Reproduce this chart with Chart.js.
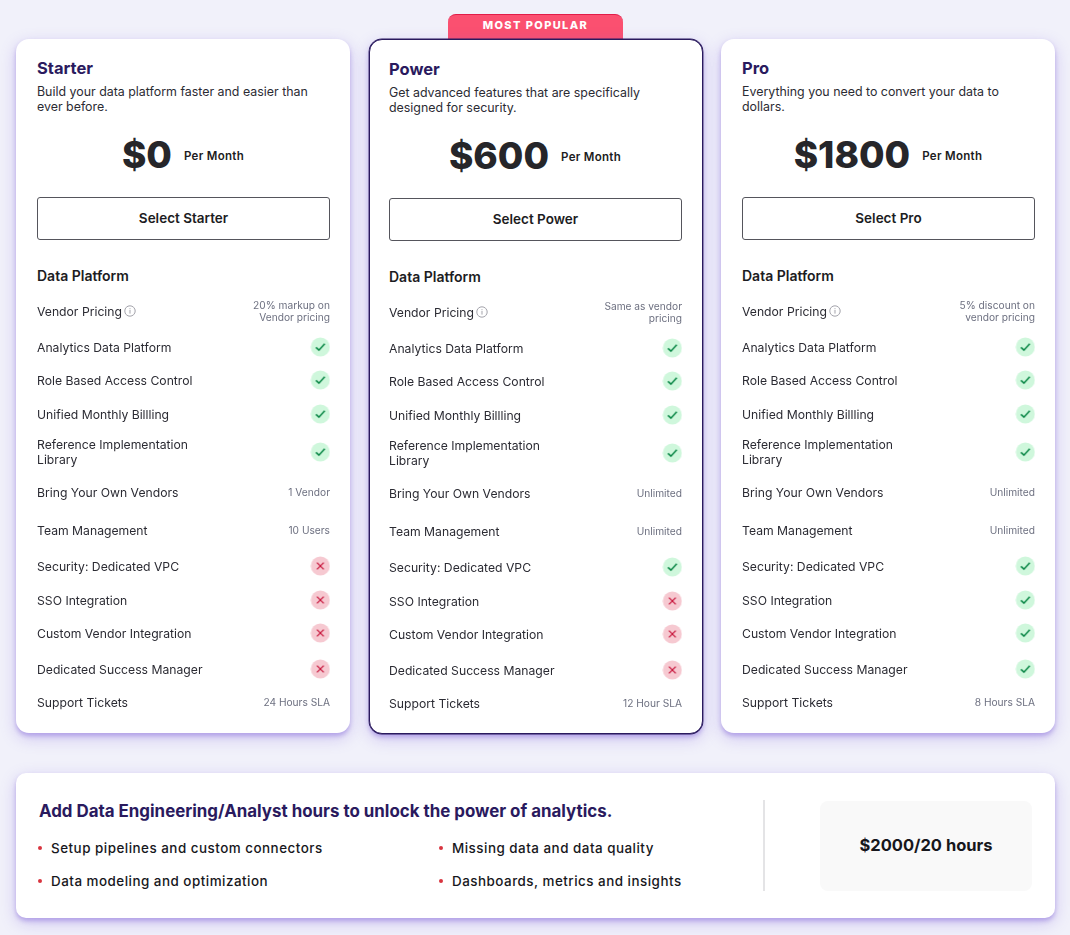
<!DOCTYPE html>
<html>
<head>
<meta charset="utf-8">
<title>Pricing</title>
<script src="https://cdn.jsdelivr.net/npm/chart.js@4"></script>
<style>
html, body { margin: 0; padding: 0; }
body { width: 1070px; height: 935px; background: #f1f1fa; position: relative; overflow: hidden; font-family: Inter, sans-serif; color: #1c1c22; }
.abs { position: absolute; white-space: nowrap; }
.card { position: absolute; width: 334px; top: 39px; height: 694px; background: #fff; border-radius: 13px; box-shadow: 0 3px 4px rgba(120, 90, 210, .38), 0 5px 16px rgba(130, 100, 225, .32); box-sizing: border-box; }
.card.popular { height: 695px; border: 1px solid #2a1a5e; box-shadow: 0 0 0 .4px #2a1a5e, 0 3px 4px rgba(120, 90, 210, .38), 0 5px 16px rgba(130, 100, 225, .32); }
.name { font-size: 16.5px; line-height: 22px; font-weight: 700; color: #2a1a5e; }
.desc { font-size: 12.4px; line-height: 14.5px; color: #2b2b33; white-space: pre; }
.priceRow { width: 334px; height: 50px; display: flex; align-items: center; justify-content: center; }
.price { font-size: 37px; font-weight: 800; color: #26262a; line-height: 50px; }
.per { font-size: 11.5px; font-weight: 600; margin-left: 12px; letter-spacing: .3px; padding-top: 1px; }
.btn { width: 293px; height: 43px; box-sizing: border-box; border: 1px solid #55555c; border-radius: 3px; text-align: center; line-height: 41px; font-size: 13.5px; font-weight: 600; }
.section { font-size: 14px; line-height: 18px; font-weight: 600; }
.tab { left: 448px; top: 14px; width: 175px; height: 25px; background: #fb5070; border-top: 1px solid #e11d48; border-radius: 8px 8px 0 0; box-sizing: border-box; color: #fff; text-align: center; font-size: 11px; line-height: 21px; font-weight: 800; letter-spacing: 1.4px; }
canvas { position: absolute; }
#extra { position: absolute; left: 16px; top: 773px; width: 1039px; height: 145px; background: #fff; border-radius: 10px; box-shadow: 0 3px 4px rgba(120, 90, 210, .38), 0 5px 16px rgba(130, 100, 225, .32); }
.extraTitle { left: 23px; top: 27px; font-size: 16.9px; line-height: 22px; font-weight: 700; color: #2a1a5e; }
.item { font-size: 13.4px; line-height: 18px; font-weight: 500; letter-spacing: .5px; color: #17171c; }
.dot { width: 4px; height: 4px; border-radius: 50%; background: #d8343f; }
.rule { left: 747px; top: 27px; width: 2px; height: 91px; background: #e4e4e6; }
.hours { left: 804px; top: 28px; width: 212px; height: 90px; background: #f9f9f9; border-radius: 8px; text-align: center; line-height: 88px; font-size: 16.5px; font-weight: 700; color: #17171c; }
</style>
</head>
<body>
<div class="abs tab" id="tab"></div>
<div id="cards"></div>
<div id="extra">
	<div class="abs rule"></div>
	<div class="abs hours" id="hours"></div>
</div>
<script>
const plans = ['Starter', 'Power', 'Pro'];
const planLeft = [16, 369, 721];
const descriptions = [
	'Build your data platform faster and easier than\never before.',
	'Get advanced features that are specifically\ndesigned for security.',
	'Everything you need to convert your data to\ndollars.',
];
const prices = ['$0', '$600', '$1800'];
const features = [
	'Vendor Pricing',
	'Analytics Data Platform',
	'Role Based Access Control',
	'Unified Monthly Billling',
	['Reference Implementation', 'Library'],
	'Bring Your Own Vendors',
	'Team Management',
	'Security: Dedicated VPC',
	'SSO Integration',
	'Custom Vendor Integration',
	'Dedicated Success Manager',
	'Support Tickets',
];
// 1 = included, 0 = not included, null = row shows a text instead
const starterMarks = [null, 1, 1, 1, 1, null, null, 0, 0, 0, 0, null];
const powerMarks = [null, 1, 1, 1, 1, null, null, 1, 0, 0, 0, null];
const proMarks = [null, 1, 1, 1, 1, null, null, 1, 1, 1, 1, null];
const starterTexts = [['20% markup on', 'Vendor pricing'], '', '', '', '', '1 Vendor', '10 Users', '', '', '', '', '24 Hours SLA'];
const powerTexts = [['Same as vendor', 'pricing'], '', '', '', '', 'Unlimited', 'Unlimited', '', '', '', '', '12 Hour SLA'];
const proTexts = [['5% discount on', 'vendor pricing'], '', '', '', '', 'Unlimited', 'Unlimited', '', '', '', '', '8 Hours SLA'];
const extraItems = ['Setup pipelines and custom connectors', 'Data modeling and optimization', 'Missing data and data quality', 'Dashboards, metrics and insights'];

// row spacing of the list, the rows are not evenly spaced in the design
const rowSteps = [21, 36, 33, 34, 38, 40, 38, 36, 34, 33, 36, 33];
const rowY = [];
rowSteps.reduce((sum, step) => {
	rowY.push(sum + step);
	return sum + step;
}, 0);

function makeIcon(ok) {
	const c = document.createElement('canvas');
	c.width = 20;
	c.height = 20;
	const g = c.getContext('2d');
	g.fillStyle = ok ? '#cff7dc' : '#f6c9d1';
	g.beginPath();
	g.arc(10, 10, 9.5, 0, Math.PI * 2);
	g.fill();
	g.strokeStyle = ok ? '#0f8a4a' : '#c8193f';
	g.lineWidth = ok ? 1.6 : 1.3;
	g.beginPath();
	if (ok) {
		g.moveTo(5.6, 10.4);
		g.lineTo(8.6, 13.2);
		g.lineTo(14.4, 6.8);
	} else {
		g.moveTo(6.6, 6.6);
		g.lineTo(13.4, 13.4);
		g.moveTo(13.4, 6.6);
		g.lineTo(6.6, 13.4);
	}
	g.stroke();
	return c;
}

function makeInfo() {
	const c = document.createElement('canvas');
	c.width = 12;
	c.height = 12;
	const g = c.getContext('2d');
	g.strokeStyle = '#a2a2aa';
	g.lineWidth = 1;
	g.beginPath();
	g.arc(6, 6, 5.2, 0, Math.PI * 2);
	g.stroke();
	g.fillStyle = '#a2a2aa';
	g.fillRect(5.5, 5, 1, 3.6);
	g.fillRect(5.5, 3.2, 1, 1);
	return c;
}

const okIcon = makeIcon(true);
const noIcon = makeIcon(false);
const infoIcon = makeInfo();

// labels sit a pixel under the icon centres
function fixedTicks(axis) {
	axis.ticks = rowY.map((v) => ({ value: v + 1 }));
}

// mirrored axes sit on the plot area, no room or margins wanted
function flatAxis(axis) {
	axis.width = 0;
	axis.paddingTop = 0;
	axis.paddingBottom = 0;
}

function drawCard(i, marks, texts) {
	const shift = i === 1 ? 1 : 0;
	const card = document.createElement('div');
	card.className = i === 1 ? 'card popular' : 'card';
	card.style.left = planLeft[i] + 'px';
	const top = (v) => v + shift - (i === 1 ? 1 : 0);
	const left = (v) => v - (i === 1 ? 2 : 0);
	card.innerHTML =
		`<div class="abs name" style="left:${left(21)}px;top:${top(18)}px">${plans[i]}</div>` +
		`<div class="abs desc" style="left:${left(21)}px;top:${top(46)}px">${descriptions[i]}</div>` +
		`<div class="abs priceRow" style="left:${left(0)}px;top:${top(91)}px"><span class="price">${prices[i]}</span><span class="per">Per Month</span></div>` +
		`<div class="abs btn" style="left:${left(21)}px;top:${top(158)}px">Select ${plans[i]}</div>` +
		`<div class="abs section" style="left:${left(21)}px;top:${top(228)}px">Data Platform</div>`;
	document.getElementById('cards').appendChild(card);

	const canvas = document.createElement('canvas');
	canvas.width = 293;
	canvas.height = 435;
	canvas.style.left = left(21) + 'px';
	canvas.style.top = top(251) + 'px';
	card.appendChild(canvas);

	const markPoints = [];
	const markStyles = [];
	marks.forEach((m, r) => {
		if (m === null) return;
		markPoints.push({ x: 0.967, y: rowY[r] });
		markStyles.push(m ? okIcon : noIcon);
	});

	new Chart(canvas, {
		type: 'scatter',
		data: {
			datasets: [
				{ data: markPoints, pointStyle: markStyles, pointRadius: 10, clip: false, yAxisID: 'y' },
				{ data: [{ x: 0.317, y: rowY[0] }], pointStyle: infoIcon, pointRadius: 6, clip: false, yAxisID: 'y' },
			],
		},
		options: {
			responsive: false,
			animation: false,
			events: [],
			layout: { padding: 0, autoPadding: false },
			plugins: { legend: { display: false }, tooltip: { enabled: false } },
			scales: {
				x: { type: 'linear', min: 0, max: 1, display: false },
				y: {
					type: 'linear',
					position: 'left',
					reverse: true,
					min: 0,
					max: 435,
					border: { display: false },
					grid: { display: false, drawTicks: false, tickLength: 0 },
					afterBuildTicks: fixedTicks,
					afterFit: flatAxis,
					ticks: {
						autoSkip: false,
						mirror: true,
						padding: 0,
						color: '#2b2b33',
						font: { family: 'Inter', size: 12.2, lineHeight: '15px' },
						callback: (v, idx) => features[idx],
					},
				},
				yRight: {
					type: 'linear',
					position: 'right',
					reverse: true,
					min: 0,
					max: 435,
					border: { display: false },
					grid: { display: false, drawTicks: false, tickLength: 0 },
					afterBuildTicks: fixedTicks,
					afterFit: flatAxis,
					ticks: {
						autoSkip: false,
						mirror: true,
						padding: 0,
						color: '#6d7080',
						font: { family: 'Inter', size: 10.2, lineHeight: '12.5px' },
						callback: (v, idx) => texts[idx],
					},
				},
			},
		},
	});
}

document.getElementById('tab').textContent = 'MOST POPULAR';
drawCard(0, starterMarks, starterTexts);
drawCard(1, powerMarks, powerTexts);
drawCard(2, proMarks, proTexts);

const extra = document.getElementById('extra');
const title = document.createElement('div');
title.className = 'abs extraTitle';
title.textContent = 'Add Data Engineering/Analyst hours to unlock the power of analytics.';
extra.appendChild(title);
extraItems.forEach((text, i) => {
	const colLeft = i < 2 ? 35 : 436;
	const rowTop = i % 2 === 0 ? 66 : 99;
	const item = document.createElement('div');
	item.className = 'abs item';
	item.style.left = colLeft + 'px';
	item.style.top = rowTop + 'px';
	item.textContent = text;
	extra.appendChild(item);
	const dot = document.createElement('div');
	dot.className = 'abs dot';
	dot.style.left = (colLeft - 13) + 'px';
	dot.style.top = (rowTop + 7) + 'px';
	extra.appendChild(dot);
});
document.getElementById('hours').textContent = '$2000/20 hours';
</script>
</body>
</html>
